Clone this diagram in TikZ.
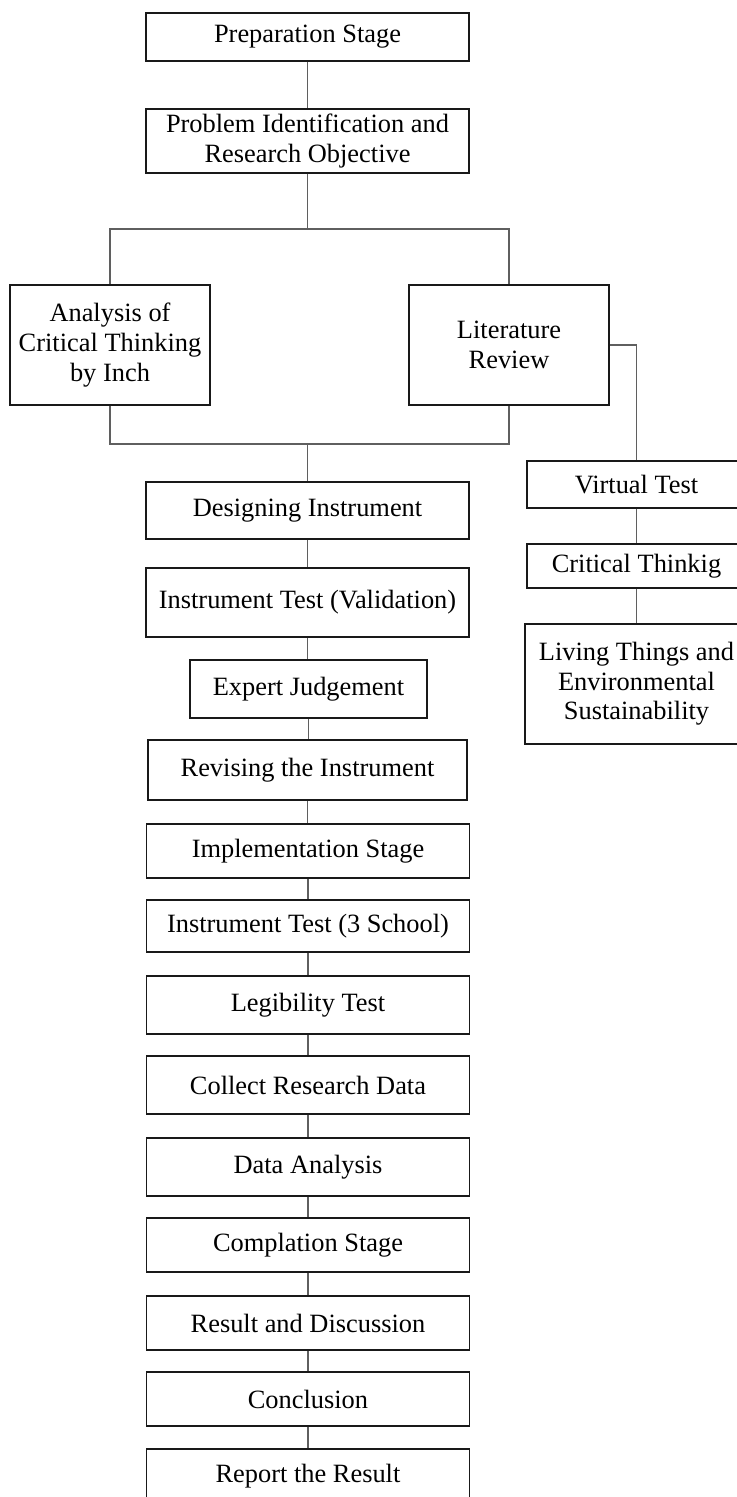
\documentclass[tikz,border=0pt]{standalone}
\usepackage{fontspec}
\setmainfont{Liberation Serif}
\definecolor{boxLine}{RGB}{25,25,25}
\definecolor{linkGray}{RGB}{95,95,95}

\begin{document}
\begin{tikzpicture}[x=0.5pt,y=-0.5pt,
      stage/.style={draw=boxLine,line width=0.75pt,align=center,inner sep=0pt,
                    minimum width=161.5pt,font=\fontsize{13.2}{14.8}\selectfont},
      side/.style={stage,minimum width=109.5pt},
      link/.style={draw=linkGray,line width=0.6pt}]
    \useasboundingbox (0,0) rectangle (736,1497);
    \fill[white] (0,0) rectangle (736,1497);
    \node[stage,minimum height=24pt] (prep) at (307.5,37) {Preparation Stage};
    \node[stage,minimum height=32pt] (prob) at (307.5,141) {Problem Identification and\\ Research Objective};
    \node[stage,minimum width=100pt,minimum height=60pt] (anal) at (110,345) {Analysis of\\ Critical Thinking\\ by Inch};
    \node[stage,minimum width=100pt,minimum height=60pt] (lit) at (509,345) {Literature\\ Review};
    \node[side,minimum height=23.5pt] (virt) at (636.5,484.5) {Virtual Test};
    \node[side,minimum height=22pt] (crit) at (636.5,566) {Critical Thinkig};
    \node[side,minimum width=111.5pt,minimum height=60pt] (living) at (636.5,684) {Living Things and\\ Environmental\\ Sustainability};
    \node[stage,minimum height=28.5pt] (design) at (307.5,510.5) {Designing Instrument};
    \node[stage,minimum height=34.5pt] (valid) at (307.5,602.5) {Instrument Test (Validation)};
    \node[stage,minimum width=118.5pt,minimum height=29pt] (expert) at (308.5,689) {Expert Judgement};
    \node[stage,minimum width=159.5pt,minimum height=30pt] (revise) at (307.5,770) {Revising the Instrument};
    \node[stage,minimum height=27pt] (impl) at (308,851) {Implementation Stage};
    \node[stage,minimum height=26pt] (school) at (308,926) {Instrument Test (3 School)};
    \node[stage,minimum height=29pt] (legib) at (308,1005) {Legibility Test};
    \node[stage,minimum height=29pt] (collect) at (308,1085) {Collect Research Data};
    \node[stage,minimum height=29pt] (data) at (308,1167) {Data Analysis};
    \node[stage,minimum height=27pt] (compl) at (308,1245) {Complation Stage};
    \node[stage,minimum height=27pt] (result) at (308,1323) {Result and Discussion};
    \node[stage,minimum height=27pt] (concl) at (308,1399) {Conclusion};
    \node[stage,minimum height=27pt] (report) at (308,1476) {Report the Result};
    \coordinate (split) at (307.5,229);
    \coordinate (join) at (307.5,444);
    \draw[link] (prep) -- (prob);
    \draw[link] (prob) -- (split);
    \draw[link] (anal.north) |- (split) -| (lit.north);
    \draw[link] (anal.south) |- (join) -| (lit.south);
    \draw[link] (join) -- (design.north -| join);
    \draw[link] (lit.east) -| (virt.north);
    \draw[link] (virt) -- (crit);
    \draw[link] (crit) -- (living);
    \foreach \a/\b in {design/valid,valid/expert,expert/revise,revise/impl,impl/school,
                       school/legib,legib/collect,collect/data,data/compl,compl/result,
                       result/concl,concl/report}
      \draw[link] (\a.south) -- (\a.south |- \b.north);
  \end{tikzpicture}
\end{document}
